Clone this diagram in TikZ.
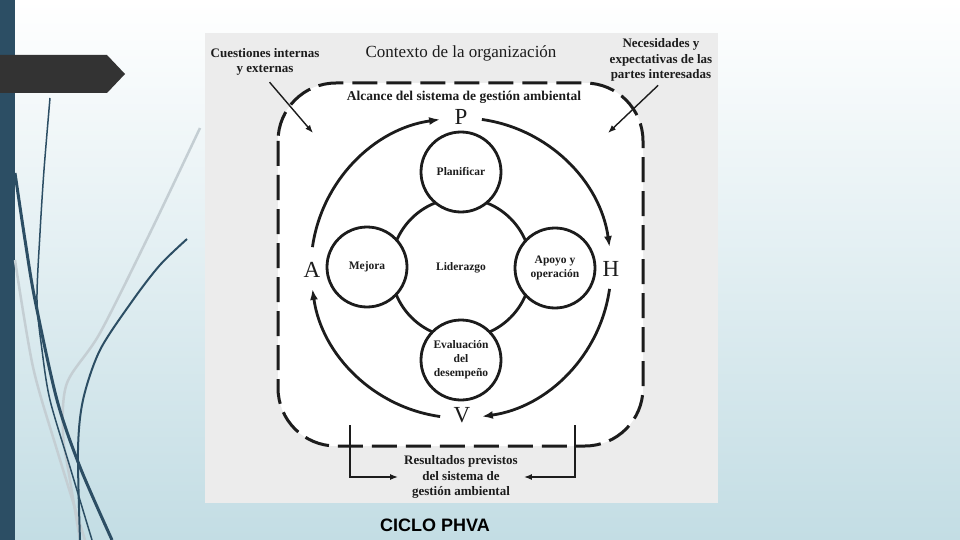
\documentclass[tikz,border=0pt]{standalone}
\usepackage{fontspec}
\setmainfont{Liberation Serif}
\setsansfont{Liberation Sans}
\usetikzlibrary{arrows.meta,positioning,calc}
\definecolor{SLIDE-DARK}{RGB}{44,78,100}
\definecolor{SLIDE-BLUE}{RGB}{195,221,228}
\definecolor{SLIDE-GRAY}{RGB}{196,206,211}
\definecolor{BANNER}{RGB}{51,51,51}
\definecolor{FIG-GRAY}{RGB}{236,236,236}
\definecolor{INK}{RGB}{28,28,28}

\begin{document}
\begin{tikzpicture}[x=1pt,y=-1pt,
  stage/.style={circle, draw=INK, line width=2.8pt, fill=white, minimum size=80pt, inner sep=0pt,
    align=center, text=INK, font=\bfseries\fontsize{11.5}{14}\selectfont},
  phase/.style={text=INK, inner sep=0pt, font=\fontsize{23}{23}\selectfont},
  tag/.style={text=INK, align=center, inner sep=1pt, font=\bfseries\fontsize{13}{15.5}\selectfont},
  cycarrow/.style={->, >={Latex[length=11pt,width=8pt]}, line width=2.8pt, INK},
  pointer/.style={->, >={Latex[length=8pt,width=6pt]}, line width=1.4pt, INK},
]
  \useasboundingbox (0,0) rectangle (960,540);

  % Slide background
  \shade[top color=white, bottom color=SLIDE-BLUE] (0,0) rectangle (960,540);
  \fill[SLIDE-DARK] (0,0) rectangle (15,540);

  % Swooshes on the left
  \draw[SLIDE-GRAY, line width=2.5pt] plot[smooth] coordinates {(200,128) (150,233) (100,333) (67,383) (63,433) (70,480) (80,540)};
  \draw[SLIDE-GRAY, line width=2.5pt] plot[smooth] coordinates {(15,260) (33,367) (57,450) (85,540)};
  \draw[SLIDE-DARK, line width=1.5pt] plot[smooth] coordinates {(50,98) (44,170) (40,233) (37,300) (42,350) (50,400) (70,467) (92,540)};
  \draw[SLIDE-DARK, line width=3pt] plot[smooth] coordinates {(15,173) (25,240) (35,300) (57,400) (80,467) (112,540)};
  \draw[SLIDE-DARK, line width=2pt] plot[smooth] coordinates {(187,239) (160,265) (133,300) (100,350) (83,400) (78,450) (80,540)};

  % Title banner
  \fill[BANNER] (0,55) -- (107,55) -- (125,74) -- (107,93) -- (0,93) -- cycle;

  % Figure panel
  \fill[FIG-GRAY] (205,33) rectangle (718,503);
  \draw[INK, fill=white, line width=3pt, dash pattern=on 25pt off 9pt, rounded corners=58pt]
    (278,83) rectangle (643,446);

  % Context labels
  \node[text=INK, font=\fontsize{17}{17}\selectfont] (contexto) at (461,53) {Contexto de la organización};
  \node[tag] (cuestiones) at (265,62) {Cuestiones internas\\y externas};
  \node[tag] (necesidades) at (661,60) {Necesidades y\\expectativas de las\\partes interesadas};
  \node[tag, font=\bfseries\fontsize{13.5}{15}\selectfont] (alcance) at (464,97) {Alcance del sistema de gestión ambiental};

  \coordinate (inL) at (313,133);
  \coordinate (inR) at (608,133);
  \draw[pointer, shorten <=7pt] (cuestiones.south) -- (inL);
  \draw[pointer, shorten <=4pt] (necesidades.south) -- (inR);

  % Core circles
  \coordinate (cyc) at (461,268);
  \node[stage, minimum size=140pt] (lider) at (cyc) {Liderazgo};
  \node[stage] (plan) at (461,172) {Planificar};
  \node[stage] (apoyo) at (555,268) {Apoyo y\\operación};
  \node[stage] (mejora) at (367,267) {Mejora};
  \node[stage] (eval) at (461,360) {Evaluación\\del\\desempeño};

  % PHVA letters and cycle
  \node[phase] (P) at (461,117) {P};
  \node[phase] (H) at (611,269) {H};
  \node[phase] (V) at (462,415) {V};
  \node[phase] (A) at (312,270) {A};

  \draw[cycarrow] ($(cyc)+(-172:150)$) arc[start angle=-172, end angle=-98, radius=150];
  \draw[cycarrow] ($(cyc)+(-82:150)$) arc[start angle=-82, end angle=-8, radius=150];
  \draw[cycarrow] ($(cyc)+(8:150)$) arc[start angle=8, end angle=82, radius=150];
  \draw[cycarrow] ($(cyc)+(98:150)$) arc[start angle=98, end angle=172, radius=150];

  % Intended outcomes
  \node[tag] (resultados) at (461,477) {Resultados previstos\\del sistema de\\gestión ambiental};
  \coordinate (outL) at (350,425);
  \coordinate (outR) at (575,425);
  \draw[pointer, shorten >=5pt] (outL) |- (resultados.west);
  \draw[pointer, shorten >=5pt] (outR) |- (resultados.east);

  % Caption
  \node[font=\sffamily\bfseries\fontsize{18}{18}\selectfont] (ciclo) at (435,525) {CICLO PHVA};
\end{tikzpicture}
\end{document}
